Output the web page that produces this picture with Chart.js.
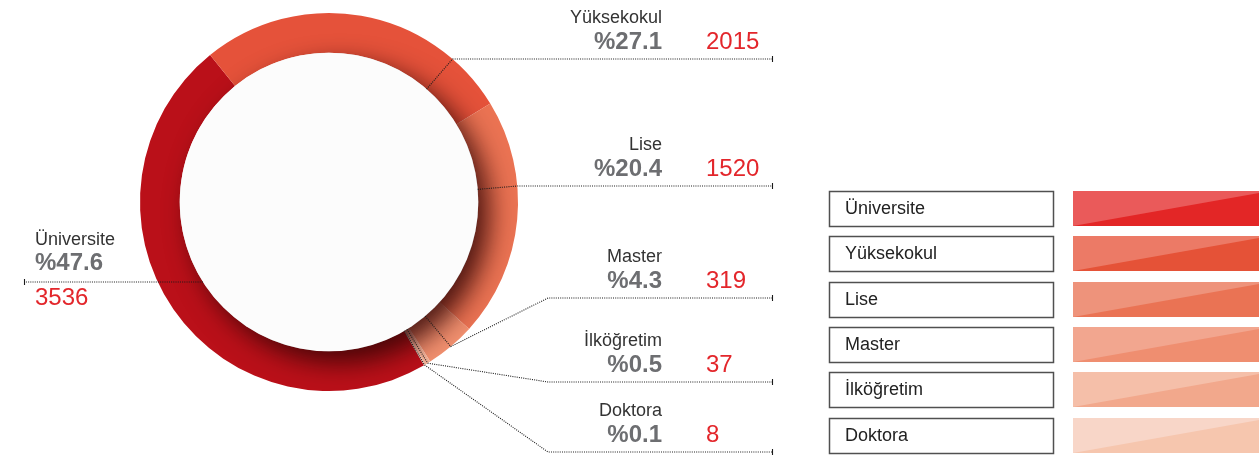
<!DOCTYPE html>
<html>
<head>
<meta charset="utf-8">
<script src="https://cdn.jsdelivr.net/npm/chart.js@4"></script>
<style>
  html, body { margin: 0; padding: 0; background: #fff; }
  #eduChart { display: block; }
</style>
</head>
<body>
<canvas id="eduChart" width="1259" height="455"></canvas>
<script>
var labels = ["Üniversite", "Yüksekokul", "Lise", "Master", "İlköğretim", "Doktora"];
var counts = [3536, 2015, 1520, 319, 37, 8];

var ringColors = ["#BA1019", "#E5523A", "#EB7353", "#F2906F", "#F5B49A", "#F8CDB8"];
var legendLight = ["#EA5A5A", "#EC7A66", "#EE937B", "#F2A68F", "#F5BFA9", "#F8D6C8"];
var legendDark = ["#E32626", "#E55237", "#EA7354", "#EF8E70", "#F2A88C", "#F6C6AE"];

// where each callout sits (not data)
var callouts = [
  { side: "left", lineY: 282 },
  { side: "right", lineY: 59, kind: "radial" },
  { side: "right", lineY: 186, kind: "radial" },
  { side: "right", lineY: 298, kind: "elbow" },
  { side: "right", lineY: 382, kind: "elbow" },
  { side: "right", lineY: 452, kind: "elbow" }
];

var FONT = '"Liberation Sans", Arial, Helvetica, sans-serif';
var total = counts.reduce(function (a, b) { return a + b; }, 0);

function pct(v) {
  return "%" + (v * 100 / total).toFixed(1);
}

function dotted(ctx, pts, endTick) {
  ctx.save();
  ctx.strokeStyle = "#1a1a1a";
  ctx.lineWidth = 1.1;
  ctx.setLineDash([1, 1.2]);
  ctx.beginPath();
  ctx.moveTo(pts[0][0], pts[0][1]);
  for (var i = 1; i < pts.length; i++) ctx.lineTo(pts[i][0], pts[i][1]);
  ctx.stroke();
  ctx.setLineDash([]);
  if (endTick) {
    ctx.beginPath();
    ctx.moveTo(endTick[0] + 0.5, endTick[1] - 3);
    ctx.lineTo(endTick[0] + 0.5, endTick[1] + 3);
    ctx.stroke();
  }
  ctx.restore();
}

var calloutPlugin = {
  id: "callouts",
  afterDatasetsDraw: function (chart) {
    var ctx = chart.ctx;
    var arcs = chart.getDatasetMeta(0).data;
    var cx = arcs[0].x, cy = arcs[0].y;
    var ro = arcs[0].outerRadius, ri = arcs[0].innerRadius;

    // inner disc casting a shadow onto the ring
    ctx.save();
    ctx.beginPath();
    ctx.arc(cx, cy, ro, 0, Math.PI * 2);
    ctx.clip();
    ctx.shadowColor = "rgba(50,5,5,0.85)";
    ctx.shadowBlur = 26;
    ctx.shadowOffsetX = 11;
    ctx.shadowOffsetY = 11;
    ctx.beginPath();
    ctx.arc(cx, cy, ri, 0, Math.PI * 2);
    ctx.fillStyle = "#FCFCFC";
    ctx.fill();
    ctx.restore();

    var endX = 772, bendX = 548, textRight = 662, valueLeft = 706;

    arcs.forEach(function (arc, i) {
      var c = callouts[i];
      var y = c.lineY;
      if (c.side === "left") {
        var x0 = cx - Math.sqrt(ri * ri - (y - cy) * (y - cy));
        dotted(ctx, [[x0, y], [25, y]], [24, y]);
        ctx.save();
        ctx.textAlign = "left";
        ctx.textBaseline = "alphabetic";
        ctx.fillStyle = "#333";
        ctx.font = "18px " + FONT;
        ctx.fillText(labels[i], 35, y - 37);
        ctx.fillStyle = "#6D6E71";
        ctx.font = "bold 24px " + FONT;
        ctx.fillText(pct(counts[i]), 35, y - 12);
        ctx.fillStyle = "#E3262B";
        ctx.font = "24px " + FONT;
        ctx.fillText(String(counts[i]), 35, y + 23);
        ctx.restore();
        return;
      }
      var a;
      if (c.kind === "radial") {
        a = Math.asin((y - cy) / ro);
      } else {
        a = (arc.startAngle + arc.endAngle) / 2;
      }
      var p1 = [cx + ri * Math.cos(a), cy + ri * Math.sin(a)];
      var p2 = [cx + ro * Math.cos(a), cy + ro * Math.sin(a)];
      var pts = c.kind === "radial"
        ? [p1, p2, [endX, y]]
        : [p1, p2, [bendX, y], [endX, y]];
      dotted(ctx, pts, [endX, y]);

      ctx.save();
      ctx.textBaseline = "alphabetic";
      ctx.textAlign = "right";
      ctx.fillStyle = "#333";
      ctx.font = "18px " + FONT;
      ctx.fillText(labels[i], textRight, y - 36);
      ctx.fillStyle = "#6D6E71";
      ctx.font = "bold 24px " + FONT;
      ctx.fillText(pct(counts[i]), textRight, y - 10);
      ctx.textAlign = "left";
      ctx.fillStyle = "#E3262B";
      ctx.font = "24px " + FONT;
      ctx.fillText(String(counts[i]), valueLeft, y - 10);
      ctx.restore();
    });
  },
  afterDraw: function (chart) {
    // boxed legend with two-tone swatches
    var ctx = chart.ctx;
    var boxX = 829, boxW = 224, swX = 1073, swW = 186, h = 35, top = 191, step = 45.33;
    labels.forEach(function (name, i) {
      var y = Math.round(top + i * step);
      ctx.save();
      ctx.strokeStyle = "#505050";
      ctx.lineWidth = 1.5;
      ctx.strokeRect(boxX + 0.5, y + 0.5, boxW, h);
      ctx.fillStyle = "#222";
      ctx.font = "18px " + FONT;
      ctx.textAlign = "left";
      ctx.textBaseline = "middle";
      ctx.fillText(name, boxX + 16, y + h / 2 + 1);

      ctx.fillStyle = legendDark[i];
      ctx.fillRect(swX, y, swW, h);
      ctx.fillStyle = legendLight[i];
      ctx.beginPath();
      ctx.moveTo(swX, y);
      ctx.lineTo(swX + swW, y);
      ctx.lineTo(swX + swW, y + 2);
      ctx.lineTo(swX, y + h);
      ctx.closePath();
      ctx.fill();
      ctx.restore();
    });
  }
};

var ctxE = document.getElementById("eduChart").getContext("2d");
var eduChart = new Chart(ctxE, {
  type: "doughnut",
  plugins: [calloutPlugin],
  data: {
    labels: labels,
    datasets: [
      {
        data: counts,
        backgroundColor: ringColors,
        borderWidth: 0
      }
    ]
  },
  options: {
    responsive: false,
    animation: false,
    cutout: "79%",
    rotation: 149.8,
    layout: {
      padding: { left: 140, top: 13, right: 741, bottom: 64 }
    },
    plugins: {
      legend: { display: false },
      tooltip: { enabled: false }
    }
  }
});
</script>
</body>
</html>
